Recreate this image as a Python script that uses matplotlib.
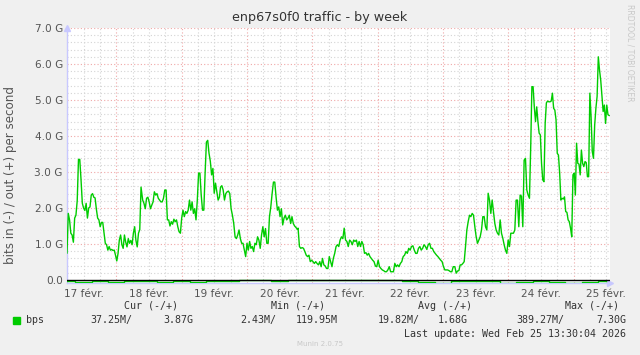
"""Munin weekly traffic graph for enp67s0f0 (out = positive, in = negative)."""

import matplotlib

matplotlib.use("Agg")
import matplotlib.pyplot as plt
import numpy as np

# hours since 17 Feb 00:00 ; traffic in Gbit/s
SEG_HOURS = [(5.9, 33.1), (33.7, 61.9), (62.3, 90.5), (90.8, 119.2),
             (119.7, 147.8), (148.4, 176.3), (176.7, 205.1)]
OUT_SEG1 = [0.75, 1.85, 1.67, 1.3, 1.25, 1.05, 1.72, 1.8, 2.2, 3.35, 3.35, 2.78, 2.13, 2.0, 1.93,
            2.13, 1.72, 2.0, 2.03, 2.36, 2.4, 2.3, 2.28, 1.97, 1.72, 1.67, 1.48, 1.6, 1.6, 1.3,
            1.02, 0.98, 0.83, 0.93, 0.83, 0.85, 0.82, 0.83, 0.69, 0.53, 0.74, 1.11, 1.25, 0.98,
            0.88, 1.25, 1.05, 0.92, 1.15, 1.02, 1.1, 0.98, 1.3, 1.48, 1.1, 0.92, 1.3, 1.4, 2.58]
OUT_SEG2 = [2.22, 2.13, 1.98, 2.27, 2.3, 2.17, 1.98, 2.08, 2.17, 2.45, 2.36, 2.4, 2.27, 2.22, 2.17,
            2.17, 2.27, 2.5, 2.5, 1.67, 1.67, 1.5, 1.62, 1.55, 1.69, 1.62, 1.67, 1.48, 1.34, 1.3,
            1.72, 1.94, 1.76, 1.9, 1.85, 1.94, 2.22, 1.94, 2.17, 1.85, 1.98, 1.67, 2.22, 2.97,
            2.97, 2.36, 1.94, 1.94, 2.97, 3.83, 3.88, 3.52, 3.3, 2.92, 3.1, 2.41, 2.69, 2.45,
            2.22, 2.3]
OUT_SEG3 = [2.58, 2.62, 2.5, 2.22, 2.4, 2.45, 2.47, 2.4, 1.98, 1.8, 1.57, 1.2, 1.15, 1.25, 1.39,
            1.15, 1.02, 1.02, 0.83, 0.65, 1.02, 0.83, 1.07, 0.88, 0.93, 0.79, 1.02, 0.98, 1.2,
            1.11, 0.88, 1.25, 1.48, 1.2, 1.43, 1.02, 1.02, 1.76, 2.03, 2.4, 2.72, 2.72, 2.3, 1.94,
            2.03, 1.76, 1.98, 1.53, 1.72, 1.8, 1.67, 1.72, 1.8, 1.57, 1.76, 1.57, 1.5, 1.46, 1.41]
OUT_SEG4 = [1.44, 0.93, 0.88, 0.9, 0.88, 0.79, 0.69, 0.65, 0.69, 0.51, 0.55, 0.51, 0.46, 0.51,
            0.46, 0.42, 0.51, 0.37, 0.6, 0.42, 0.39, 0.32, 0.32, 0.65, 0.51, 0.37, 0.6, 0.74, 0.93,
            0.98, 0.93, 1.11, 1.2, 1.15, 1.44, 1.11, 1.07, 0.93, 1.11, 1.07, 0.98, 1.11, 1.07,
            1.11, 0.93, 1.07, 0.93, 1.07, 0.98, 0.74, 0.76, 0.69, 0.74, 0.65, 0.6, 0.55, 0.51, 0.39]
OUT_SEG5 = [0.37, 0.55, 0.37, 0.32, 0.28, 0.26, 0.23, 0.23, 0.28, 0.37, 0.23, 0.23, 0.23, 0.46,
            0.37, 0.42, 0.37, 0.46, 0.51, 0.65, 0.69, 0.79, 0.74, 0.88, 0.83, 0.93, 0.95, 0.83,
            0.74, 0.74, 0.88, 0.93, 0.83, 0.88, 0.98, 0.93, 0.85, 0.98, 1.02, 0.88, 0.88, 0.79,
            0.74, 0.69, 0.65, 0.6, 0.55, 0.51, 0.37, 0.28, 0.28, 0.28, 0.26, 0.23, 0.23, 0.37]
OUT_SEG6 = [0.37, 0.19, 0.25, 0.26, 0.42, 0.42, 0.46, 0.51, 0.93, 1.39, 1.62, 1.8, 1.76, 1.85,
            1.8, 1.48, 1.2, 1.02, 1.11, 1.2, 1.39, 1.76, 1.76, 1.48, 1.39, 2.41, 2.22, 1.85, 2.22,
            1.9, 1.57, 1.39, 1.3, 1.25, 1.67, 1.3, 1.16, 0.98, 0.83, 0.74, 1.11, 0.93, 1.3, 1.3,
            1.3, 1.39, 2.22, 2.22, 1.48, 2.36, 2.33, 1.48, 3.33, 3.38, 2.5, 2.36, 2.27, 3.8]
OUT_SEG7 = [5.37, 5.37, 4.81, 4.4, 4.81, 4.4, 4.08, 4.03, 3.24, 2.78, 2.73, 4.35, 4.92, 4.97, 4.95,
            4.95, 4.97, 5.19, 4.77, 4.72, 4.45, 3.52, 3.47, 2.97, 2.22, 2.27, 2.25, 2.31, 1.9, 1.88,
            1.67, 1.62, 1.44, 1.2, 2.92, 2.97, 2.36, 3.8, 3.24, 3.22, 2.92, 3.61, 3.24, 3.15, 3.29,
            3.26, 2.87, 2.87, 5.19, 4.54, 3.57, 3.38, 4.31, 4.77, 5.1, 6.2, 5.83, 5.55, 5.1, 4.68,
            4.86, 4.35, 4.86, 4.59, 4.57]
OUT_SEGS = [OUT_SEG1, OUT_SEG2, OUT_SEG3, OUT_SEG4, OUT_SEG5, OUT_SEG6, OUT_SEG7]

# inbound traffic, one value every 6 h (drawn negative, mostly hidden under the zero line)
IN_HOURS = list(range(6, 205, 6))
IN_VALS = [0.03, 0.06, 0.02, 0.05, 0.02, 0.04, 0.06, 0.02, 0.05, 0.03, 0.02, 0.01, 0.01, 0.02,
           0.01, 0.01, 0.01, 0.01, 0.01, 0.01, 0.01, 0.02, 0.05, 0.08, 0.04, 0.03, 0.02, 0.07,
           0.05, 0.03, 0.06, 0.08, 0.05, 0.04]

DAY_LABELS = ["17 févr.", "18 févr.", "19 févr.", "20 févr.", "21 févr.",
              "22 févr.", "23 févr.", "24 févr.", "25 févr."]
Y_TICKS = [0, 1, 2, 3, 4, 5, 6, 7]
Y_LABELS = ["0.0", "1.0 G", "2.0 G", "3.0 G", "4.0 G", "5.0 G", "6.0 G", "7.0 G"]

LEG_HEAD = ["Cur (-/+)", "Min (-/+)", "Avg (-/+)", "Max (-/+)"]
LEG_IN = ["37.25M/", "2.43M/", "19.82M/", "389.27M/"]
LEG_OUT = ["3.87G", "119.95M", "1.68G", "7.30G"]

BG = "#f0f0f0"
TXT = "#555555"
GREEN = "#00cc00"
MONO = "DejaVu Sans Mono"

W, H = 640, 355
fig = plt.figure(figsize=(W / 100, H / 100), dpi=100, facecolor=BG)
ax = fig.add_axes([67 / W, 1 - 283 / H, 543 / W, 255 / H])
ax.set_facecolor("white")

hours = np.concatenate([np.linspace(a, b, len(s)) for (a, b), s in zip(SEG_HOURS, OUT_SEGS)])
out = np.concatenate(OUT_SEGS)

ax.set_xlim(5.9, 205.4)
ax.set_ylim(-0.083, 7.0)

# grid: grey every 6 h / 0.2 G, red every day / 1 G
for h in range(6, 206, 6):
    if h % 24:
        ax.axvline(h, color="#d4d4d4", lw=0.8, ls=(0, (1, 2)), zorder=1)
for h in range(24, 206, 24):
    ax.axvline(h, color="#f0a8a8", lw=0.8, ls=(0, (1, 2)), zorder=1)
for v in np.arange(0.2, 7.0, 0.2):
    if abs(v - round(v)) > 0.01:
        ax.axhline(v, color="#d4d4d4", lw=0.8, ls=(0, (1, 2)), zorder=1)
for v in Y_TICKS[1:]:
    ax.axhline(v, color="#f0a8a8", lw=0.8, ls=(0, (1, 2)), zorder=1)

ax.plot(IN_HOURS, -np.array(IN_VALS), color=GREEN, lw=1, zorder=3, drawstyle="steps-mid")
ax.plot(hours, out, color=GREEN, lw=1, zorder=3)
ax.axhline(0, color="black", lw=1, zorder=4)

for s in ["top", "right"]:
    ax.spines[s].set_visible(False)
for s in ["left", "bottom"]:
    ax.spines[s].set_color("#c8c8ff")
    ax.spines[s].set_linewidth(1)
ax.plot(0, 1.0, marker="^", ms=4, color="#c8c8ff", transform=ax.transAxes, clip_on=False)
ax.plot(1.0, 0, marker=">", ms=4, color="#c8c8ff", transform=ax.transAxes, clip_on=False)

ax.set_yticks(Y_TICKS, Y_LABELS)
ax.set_xticks([12 + 24 * i for i in range(len(DAY_LABELS))], DAY_LABELS)
ax.tick_params(axis="both", length=0, colors=TXT, labelsize=7.6, pad=3)
ax.tick_params(axis="x", pad=4)

fig.text(320 / W, 1 - 18 / H, "enp67s0f0 traffic - by week", ha="center", va="center",
         fontsize=9.2, color="#333333")
fig.text(11 / W, 1 - 175 / H, "bits in (-) / out (+) per second", rotation=90,
         ha="center", va="center", fontsize=8.6, color=TXT)
fig.text(630 / W, 1 - 53 / H, "RRDTOOL / TOBI OETIKER", rotation=270, ha="center",
         va="center", fontsize=5.5, color="#c8c8c8")

# legend block
head_x = [151, 298, 445, 592]
in_x = [90, 240, 378, 516]
out_x = [193, 338, 468, 626]
for hx, txt in zip(head_x, LEG_HEAD):
    fig.text(hx / W, 1 - 306 / H, txt, ha="center", va="center", family=MONO,
             fontsize=7.2, color="#333333")
fig.patches.append(plt.Rectangle((13 / W, 1 - 324 / H), 7 / W, 7 / H, color=GREEN,
                                 transform=fig.transFigure))
fig.text(26 / W, 1 - 320 / H, "bps", ha="left", va="center", family=MONO, fontsize=7.2,
         color="#333333")
for ix, ox, a, b in zip(in_x, out_x, LEG_IN, LEG_OUT):
    fig.text(ix / W, 1 - 320 / H, a, ha="left", va="center", family=MONO, fontsize=7.2,
             color="#333333")
    fig.text(ox / W, 1 - 320 / H, b, ha="right", va="center", family=MONO, fontsize=7.2,
             color="#333333")
fig.text(626 / W, 1 - 334 / H, "Last update: Wed Feb 25 13:30:04 2026", ha="right",
         va="center", family=MONO, fontsize=7.2, color="#333333")
fig.text(320 / W, 1 - 344 / H, "Munin 2.0.75", ha="center", va="center", fontsize=5,
         color="#c8c8c8")

fig.savefig("out.png", dpi=100, facecolor=BG)
